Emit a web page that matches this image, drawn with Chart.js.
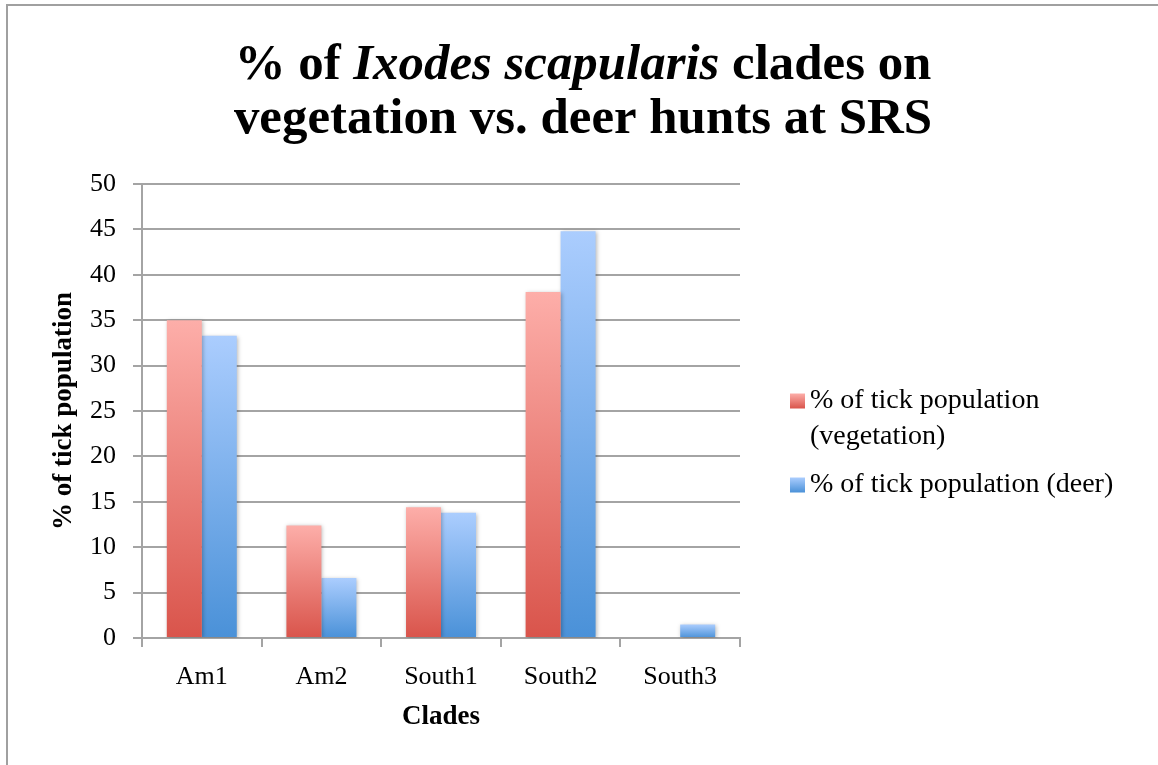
<!DOCTYPE html>
<html>
<head>
<meta charset="utf-8">
<script src="https://cdn.jsdelivr.net/npm/chart.js@4.4.1/dist/chart.umd.min.js"></script>
<style>
  html, body { margin: 0; padding: 0; background: #ffffff; }
  #wrap { width: 1158px; height: 765px; position: relative; }
</style>
</head>
<body>
<div id="wrap"><canvas id="c" width="1158" height="765"></canvas></div>
<script>
// ---- Data ----
const categories = ['Am1', 'Am2', 'South1', 'South2', 'South3'];
const vegetationPct = [35.0, 12.4, 14.4, 38.1, 0];
const deerPct = [33.3, 6.6, 13.8, 44.8, 1.5];
const seriesLabels = ['% of tick population (vegetation)', '% of tick population (deer)'];
const yTickMin = 0, yTickMax = 50, yTickStep = 5;
const titleLine1 = [
  { text: '% of ', italic: false },
  { text: 'Ixodes scapularis', italic: true },
  { text: ' clades on', italic: false }
];
const titleLine2 = 'vegetation vs. deer hunts at SRS';
const xAxisTitle = 'Clades';
const yAxisTitle = '% of tick population';

// ---- Styles ----
const FONT = '"Liberation Serif", "Times New Roman", serif';
const GRID = '#a4a4a4';
const palettes = [
  { top: '#fdaea9', bottom: '#d9544b', solid: '#e67a73' },
  { top: '#abcdfe', bottom: '#4a91d8', solid: '#78abe8' }
];

function barGradient(pal) {
  return function (ctx) {
    const chart = ctx.chart;
    if (!chart.chartArea || ctx.type !== 'data') return pal.solid;
    const y = chart.scales.y;
    const top = y.getPixelForValue(ctx.raw);
    const base = y.getPixelForValue(0);
    if (!isFinite(top) || Math.abs(base - top) < 0.5) return pal.solid;
    const g = chart.ctx.createLinearGradient(0, top, 0, base);
    g.addColorStop(0, pal.top);
    g.addColorStop(1, pal.bottom);
    return g;
  };
}

const framePlugin = {
  id: 'frame',
  beforeDraw(chart) {
    const c = chart.ctx;
    c.save();
    c.strokeStyle = '#a0a0a0';
    c.lineWidth = 2;
    c.beginPath();
    c.moveTo(7, 765);
    c.lineTo(7, 5);
    c.lineTo(1158, 5);
    c.stroke();
    c.restore();
  }
};

const shadowPlugin = {
  id: 'barShadow',
  beforeDatasetsDraw(chart) {
    const c = chart.ctx;
    c.save();
    c.shadowColor = 'rgba(0,0,0,0.28)';
    c.shadowBlur = 4;
    c.shadowOffsetX = 1;
    c.shadowOffsetY = 1;
  },
  afterDatasetsDraw(chart) {
    chart.ctx.restore();
  }
};

const titlePlugin = {
  id: 'richTitle',
  afterDraw(chart) {
    const c = chart.ctx;
    c.save();
    c.fillStyle = '#000';
    c.textBaseline = 'alphabetic';
    const targetW = 697;
    let size = 46;
    const fontFor = (it, s) => (it ? 'italic ' : '') + 'bold ' + s + 'px ' + FONT;
    const measure = (s) => titleLine1.reduce((w, seg) => { c.font = fontFor(seg.italic, s); return w + c.measureText(seg.text).width; }, 0);
    size = size * targetW / measure(size);
    const cx = 583;
    const w1 = measure(size);
    let x = cx - w1 / 2;
    titleLine1.forEach(seg => {
      c.font = fontFor(seg.italic, size);
      c.textAlign = 'left';
      c.fillText(seg.text, x, 79);
      x += c.measureText(seg.text).width;
    });
    c.font = fontFor(false, size);
    c.textAlign = 'center';
    c.fillText(titleLine2, cx, 133);
    c.restore();
  }
};

const legendPlugin = {
  id: 'sideLegend',
  afterDraw(chart) {
    const c = chart.ctx;
    c.save();
    c.font = '28px ' + FONT;
    c.fillStyle = '#000';
    c.textBaseline = 'middle';
    c.textAlign = 'left';
    const markerX = 790, textX = 810, maxW = 340, lineH = 36, itemGap = 48;
    let y = 401;
    chart.data.datasets.forEach((ds, i) => {
      const pal = palettes[i];
      const words = ds.label.split(' ');
      const lines = [];
      let cur = '';
      words.forEach(wd => {
        const test = cur ? cur + ' ' + wd : wd;
        if (c.measureText(test).width > maxW && cur) { lines.push(cur); cur = wd; }
        else cur = test;
      });
      if (cur) lines.push(cur);
      const my = y - 7.5;
      const g = c.createLinearGradient(0, my, 0, my + 15);
      g.addColorStop(0, pal.top);
      g.addColorStop(1, pal.bottom);
      c.fillStyle = g;
      c.fillRect(markerX, my, 15, 15);
      c.fillStyle = '#000';
      lines.forEach((ln, k) => c.fillText(ln, textX, y + k * lineH));
      y += (lines.length - 1) * lineH + itemGap;
    });
    c.restore();
  }
};

new Chart(document.getElementById('c'), {
  type: 'bar',
  data: {
    labels: categories,
    datasets: [
      { label: seriesLabels[0], data: vegetationPct, backgroundColor: barGradient(palettes[0]), borderWidth: 0 },
      { label: seriesLabels[1], data: deerPct, backgroundColor: barGradient(palettes[1]), borderWidth: 0 }
    ]
  },
  options: {
    responsive: false,
    animation: false,
    devicePixelRatio: 1,
    layout: { padding: { top: 184, right: 418, bottom: 0, left: 0 } },
    datasets: { bar: { categoryPercentage: 0.585, barPercentage: 1.0 } },
    plugins: {
      legend: { display: false },
      title: { display: false },
      tooltip: { enabled: false }
    },
    scales: {
      x: {
        afterFit(s) { s.height = 127; },
        grid: { display: true, drawOnChartArea: false, drawTicks: true, tickLength: 9, color: GRID, lineWidth: 2, offset: true },
        border: { display: true, color: GRID, width: 2 },
        ticks: { color: '#000', font: { family: FONT, size: 26 }, padding: 15 },
        title: { display: true, text: xAxisTitle, color: '#000', font: { family: FONT, size: 27, weight: 'bold' }, padding: { top: 0, bottom: 32 } }
      },
      y: {
        min: yTickMin, max: yTickMax,
        afterFit(s) { s.width = 142; },
        grid: { color: GRID, lineWidth: 2, tickLength: 9, drawTicks: true },
        border: { display: true, color: GRID, width: 2 },
        ticks: { stepSize: yTickStep, color: '#000', font: { family: FONT, size: 26 }, padding: 17 },
        title: { display: true, text: yAxisTitle, color: '#000', font: { family: FONT, size: 27, weight: 'bold' }, padding: { top: 48, bottom: 0 } }
      }
    }
  },
  plugins: [framePlugin, shadowPlugin, titlePlugin, legendPlugin]
});
</script>
</body>
</html>
